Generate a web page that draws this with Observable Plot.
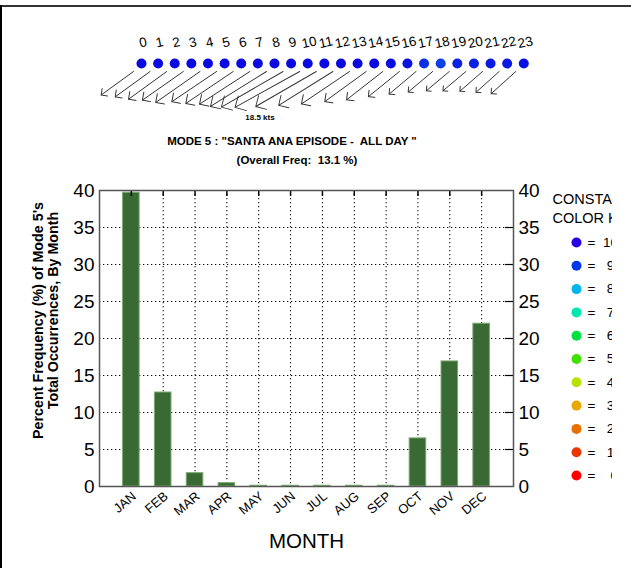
<!DOCTYPE html>
<html><head><meta charset="utf-8">
<script src="https://cdn.jsdelivr.net/npm/d3@7"></script>
<script src="https://cdn.jsdelivr.net/npm/@observablehq/plot@0.6"></script>
<style>
body{margin:0;background:#fff;font-family:"Liberation Sans",Arial,sans-serif;}
#root{position:relative;width:631px;height:568px;overflow:hidden;background:#fff;}
.abs{position:absolute;}
svg{max-width:none !important;}
</style></head><body><div id="root"></div>
<script>
// ---- data ----
const months = ["JAN","FEB","MAR","APR","MAY","JUN","JUL","AUG","SEP","OCT","NOV","DEC"];
const freq = [39.7, 12.7, 1.8, 0.45, 0.1, 0.1, 0.1, 0.1, 0.1, 6.5, 16.9, 22.0];
const yTicks = [0, 5, 10, 15, 20, 25, 30, 35, 40];
const hours = [0,1,2,3,4,5,6,7,8,9,10,11,12,13,14,15,16,17,18,19,20,21,22,23];
const windSpeed = [10.0,10.8,11.8,12.5,13.5,13.5,14.3,15.0,16.5,17.8,18.5,17.5,16.0,14.5,12.8,11.5,10.0,8.8,8.0,7.5,7.5,7.5,7.8,8.3];
const windDir = [234,234,234,235,235,236,236,237,238,240,241,240,238,236,234,232,231,230,230,230,230,229,228,228];
const dotColor = ["#0a0ae0","#0a0ae0","#0a0ae0","#0a0ae0","#0a0ae0","#0a0ae0","#0a0ae0","#0a0ae0","#0a0ae0","#0a0ae0","#0a0ae0","#0a0ae0","#0a0ae0","#0a0ae0","#0a0ae0","#0a0ae0","#0a10e0","#0a30e6","#0a40e8","#0a20e2","#0a20e2","#0a18e2","#0a18e2","#0a10e0"];
const legendValues = [10,9,8,7,6,5,4,3,2,1,0];
const legendLabels = ["=\u00a0 10","=\u00a0\u00a0 9","=\u00a0\u00a0 8","=\u00a0\u00a0 7","=\u00a0\u00a0 6","=\u00a0\u00a0 5","=\u00a0\u00a0 4","=\u00a0\u00a0 3","=\u00a0\u00a0 2","=\u00a0\u00a0 1","=\u00a0\u00a0\u00a0 0"];
const legendColors = ["#2a00e0","#0038e8","#00b4ec","#00e6b0","#00e040","#40e000","#b8e000","#e8a800","#e87000","#e83800","#ff0000"];

const root = document.getElementById("root");
const font = "Liberation Sans, Arial, sans-serif";
function place(el, css){ el.classList.add("abs"); Object.assign(el.style, css); root.appendChild(el); return el; }

// frame lines
place(document.createElement("div"), {left:"0px", top:"5px", width:"631px", height:"2px", background:"#333"});
place(document.createElement("div"), {left:"0px", top:"5px", width:"2px", height:"563px", background:"#000"});

// ---- main chart ----
const bars = months.map((m, i) => ({m, i: i + 1, v: freq[i]}));
const grid = yTicks.slice(1, -1);
const main = Plot.plot({
  width: 631, height: 568,
  marginLeft: 99, marginRight: 118, marginTop: 190, marginBottom: 82,
  x: {domain: [0, 13], axis: null},
  y: {domain: [0, 40], axis: null},
  style: {fontFamily: font, background: "transparent", overflow: "visible", color: "#000"},
  marks: [
    Plot.ruleY(grid, {y: d => d, stroke: "#000", strokeWidth: 1, strokeDasharray: "1.3,2.7"}),
    Plot.ruleX(bars, {x: "i", stroke: "#000", strokeWidth: 1, strokeDasharray: "1.3,2.7"}),
    Plot.rectY(bars, {x1: d => d.i - 0.26, x2: d => d.i + 0.26, y: "v", fill: "#3a6a33", stroke: "#7aa870", strokeWidth: 1}),
    Plot.ruleX(bars, {x: "i", y1: 40, y2: 39.2, stroke: "#000", strokeWidth: 1.5}),
    Plot.ruleY(grid, {y: d => d, x1: 12.75, x2: 13, stroke: "#000", strokeWidth: 1.2}),
    Plot.frame({stroke: "#555", strokeWidth: 1.5}),
    Plot.text(yTicks, {y: d => d, frameAnchor: "left", dx: -5, textAnchor: "end", text: d => String(d), fontSize: 19}),
    Plot.text(yTicks, {y: d => d, frameAnchor: "right", dx: 5, textAnchor: "start", text: d => String(d), fontSize: 19}),
    Plot.text(bars, {x: "i", y: 0, text: "m", rotate: -40, textAnchor: "end", dx: 3, dy: 8, fontSize: 13}),
    Plot.text(["MONTH"], {frameAnchor: "bottom", dy: 61, fontSize: 20.5}),
    Plot.text(["Total Occurrences, By Month"], {frameAnchor: "left", textAnchor: "middle", rotate: -90, dx: -46, dy: -28, fontWeight: "bold", fontSize: 14.3}),
    Plot.text(["Percent Frequency (%) of Mode 5's"], {frameAnchor: "left", textAnchor: "middle", rotate: -90, dx: -61, dy: -18, fontWeight: "bold", fontSize: 14.3, fill: "#000", stroke: "white", strokeWidth: 3, paintOrder: "stroke"})
  ]
});
place(main, {left: "0px", top: "0px"});

// ---- hourly wind panel ----
const wind = Plot.plot({
  width: 631, height: 130,
  marginLeft: 141, marginRight: 107.7, marginTop: 63, marginBottom: 20,
  x: {domain: [0, 23], axis: null},
  y: {domain: [0, 1], axis: null},
  length: {domain: [0, 20], range: [0, 80]},
  style: {fontFamily: font, background: "transparent", overflow: "visible"},
  marks: [
    Plot.vector(hours, {x: d => d, y: 1, length: d => windSpeed[d], rotate: d => windDir[d], anchor: "start", dx: -8, dy: 8, r: 2, stroke: "#333", strokeWidth: 0.9}),
    Plot.dot(hours, {x: d => d, y: 1, r: 5, fill: d => dotColor[d]}),
    Plot.text(hours, {x: d => d, y: 1, dy: -21, dx: 1.5, text: d => String(d), rotate: -12, fontSize: 13.5})
  ]
});
place(wind, {left: "0px", top: "0px"});

const kts = document.createElement("div");
kts.textContent = "18.5 kts";
place(kts, {left: "240px", top: "113px", width: "40px", textAlign: "center", fontSize: "8px", fontWeight: "bold"});

// ---- titles ----
const t1 = document.createElement("div");
t1.textContent = "MODE 5 : \"SANTA ANA EPISODE -  ALL DAY \"";
place(t1, {left: "92px", top: "135px", width: "400px", textAlign: "center", fontSize: "11.5px", fontWeight: "bold", whiteSpace: "pre"});
const t2 = document.createElement("div");
t2.textContent = "(Overall Freq:  13.1 %)";
place(t2, {left: "97px", top: "154px", width: "400px", textAlign: "center", fontSize: "11.5px", fontWeight: "bold", whiteSpace: "pre"});

// ---- legend ----
const legBox = place(document.createElement("div"), {left: "540px", top: "180px", width: "72px", height: "310px", overflow: "hidden"});
const legend = Plot.plot({
  width: 72, height: 310,
  marginLeft: 36, marginRight: 0, marginTop: 62, marginBottom: 15,
  x: {domain: [0, 1], axis: null},
  y: {domain: [0, 10], axis: null},
  style: {fontFamily: font, background: "transparent", overflow: "visible"},
  marks: [
    Plot.dot(legendValues, {x: 0, y: d => d, r: 5, fill: (d, i) => legendColors[i]}),
    Plot.text(legendValues, {x: 0, y: d => d, dx: 11, textAnchor: "start", text: (d, i) => legendLabels[i], fontSize: 13.5}),
    Plot.text(["CONSTANCY"], {frameAnchor: "top-left", dx: -24, dy: -49, textAnchor: "start", fontSize: 14.5}),
    Plot.text(["COLOR KEY"], {frameAnchor: "top-left", dx: -24, dy: -30, textAnchor: "start", fontSize: 14.5})
  ]
});
legend.style.position = "absolute"; legend.style.left = "0px"; legend.style.top = "0px"; legend.style.maxWidth = "none";
legBox.appendChild(legend);
</script>
</body></html>
